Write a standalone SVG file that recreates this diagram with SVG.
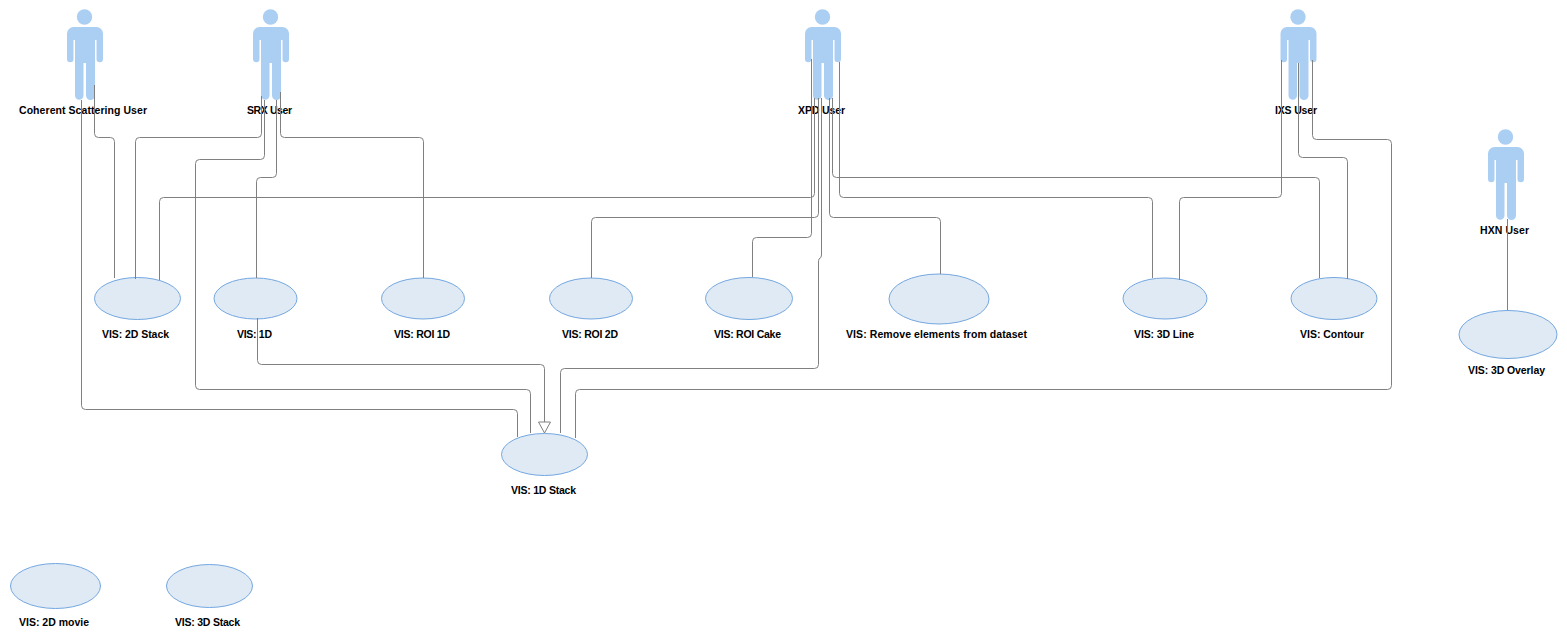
<svg xmlns="http://www.w3.org/2000/svg" width="1567" height="640" viewBox="0 0 1567 640">
<style>
.bg{fill:#fff}
.uc{fill:#dfeaf5;stroke:#74a7e0;stroke-width:1}
.actor{fill:#abcff3}
.lbl{font-family:"Liberation Sans",Arial,sans-serif;font-size:10.5px;font-weight:bold;fill:#000;text-anchor:middle}
.c{fill:none;stroke:#808080;stroke-width:1}
</style>
<defs>
<symbol id="person" overflow="visible">
<circle cx="-0.500" cy="8" r="7.700"/>
<path d="M-11.500 18H11.500A6.500 6.500 0 0 1 18 24.500V50A3.250 3.250 0 0 1 11.500 50V31H10V86.500A4.500 4.500 0 0 1 1 86.500V54H-1.500V86.500A4.250 4.250 0 0 1 -10 86.500V31H-11.500V50A3.250 3.250 0 0 1 -18 50V24.500A6.500 6.500 0 0 1 -11.500 18Z"/>
</symbol>
<marker id="tri" markerUnits="userSpaceOnUse" markerWidth="14" markerHeight="14" refX="11" refY="6" orient="auto" overflow="visible">
<path d="M0 0L11 6L0 12Z" fill="#fff" stroke="#808080"/>
</marker>
</defs>
<rect class="bg" width="1567" height="640"/>
<g id="actor-coherent"><use href="#person" x="85" y="9" class="actor"/><text class="lbl" x="83" y="114" textLength="128">Coherent Scattering User</text></g>
<g id="actor-srx"><use href="#person" x="271" y="9" class="actor"/><text class="lbl" x="269.500" y="114" textLength="45">SRX User</text></g>
<g id="actor-xpd"><use href="#person" x="823" y="9" class="actor"/><text class="lbl" x="821.500" y="114" textLength="47">XPD User</text></g>
<g id="actor-ixs"><use href="#person" x="1298.500" y="9" class="actor"/><text class="lbl" x="1296" y="114" textLength="42">IXS User</text></g>
<g id="actor-hxn"><use href="#person" x="1506" y="129" class="actor"/><text class="lbl" x="1504.500" y="234" textLength="49">HXN User</text></g>
<g id="uc-2dstack"><ellipse class="uc" cx="137.500" cy="298.500" rx="43" ry="21"/><text class="lbl" x="135.500" y="338" textLength="67">VIS: 2D Stack</text></g>
<g id="uc-1d"><ellipse class="uc" cx="255.500" cy="298.500" rx="41.500" ry="20.500"/><text class="lbl" x="254.500" y="338" textLength="35">VIS: 1D</text></g>
<g id="uc-roi1d"><ellipse class="uc" cx="423" cy="298.500" rx="41.500" ry="20.500"/><text class="lbl" x="422" y="338" textLength="56">VIS: ROI 1D</text></g>
<g id="uc-roi2d"><ellipse class="uc" cx="591" cy="298.500" rx="41.500" ry="20.500"/><text class="lbl" x="590" y="338" textLength="56">VIS: ROI 2D</text></g>
<g id="uc-roicake"><ellipse class="uc" cx="749" cy="298.500" rx="43.500" ry="21"/><text class="lbl" x="747.500" y="338" textLength="67">VIS: ROI Cake</text></g>
<g id="uc-remove"><ellipse class="uc" cx="939" cy="299" rx="50" ry="25"/><text class="lbl" x="936.500" y="338" textLength="181">VIS: Remove elements from dataset</text></g>
<g id="uc-3dline"><ellipse class="uc" cx="1165" cy="298.500" rx="42" ry="20.500"/><text class="lbl" x="1164" y="338" textLength="60">VIS: 3D Line</text></g>
<g id="uc-contour"><ellipse class="uc" cx="1334" cy="298.500" rx="43" ry="21"/><text class="lbl" x="1332" y="338" textLength="64">VIS: Contour</text></g>
<g id="uc-3doverlay"><ellipse class="uc" cx="1508" cy="334.500" rx="49" ry="24"/><text class="lbl" x="1506.500" y="374" textLength="77">VIS: 3D Overlay</text></g>
<g id="uc-1dstack"><ellipse class="uc" cx="544.500" cy="454.500" rx="43" ry="21"/><text class="lbl" x="543.500" y="494" textLength="65">VIS: 1D Stack</text></g>
<g id="uc-2dmovie"><ellipse class="uc" cx="55.500" cy="586" rx="45" ry="22.500"/><text class="lbl" x="54" y="626" textLength="70">VIS: 2D movie</text></g>
<g id="uc-3dstack"><ellipse class="uc" cx="209.500" cy="586" rx="43" ry="21.500"/><text class="lbl" x="207.500" y="626" textLength="65">VIS: 3D Stack</text></g>
<g id="connectors">
<path class="c" d="M81.500 100V405.500Q81.500 409.500 85.500 409.500H513.500Q517.500 409.500 517.500 413.500V437"/>
<path class="c" d="M94.500 85V133.500Q94.500 137.500 98.500 137.500H110.500Q114.500 137.500 114.500 141.500V278"/>
<path class="c" d="M261.500 96V133.500Q261.500 137.500 257.500 137.500H139.500Q135.500 137.500 135.500 141.500V279"/>
<path class="c" d="M264.500 100V155.500Q264.500 159.500 260.500 159.500H199.500Q195.500 159.500 195.500 163.500V385.500Q195.500 389.500 199.500 389.500H526.500Q530.500 389.500 530.500 393.500V433"/>
<path class="c" d="M276.500 100V173.500Q276.500 177.500 272.500 177.500H260.500Q256.500 177.500 256.500 181.500V278"/>
<path class="c" d="M280.500 92V133.500Q280.500 137.500 284.500 137.500H419.500Q423.500 137.500 423.500 141.500V278"/>
<path class="c" d="M811.500 59V233.500Q811.500 237.500 807.500 237.500H756.500Q752.500 237.500 752.500 241.500V277"/>
<path class="c" d="M814.500 98V193.500Q814.500 197.500 810.500 197.500H163.500Q159.500 197.500 159.500 201.500V280"/>
<path class="c" d="M818.500 98V213.500Q818.500 217.500 814.500 217.500H595.500Q591.500 217.500 591.500 221.500V278"/>
<path class="c" d="M821.500 98V255Q821.500 258 819 259Q818.500 260 818.500 262V364.500Q818.500 368.500 814.500 368.500H564.500Q560.500 368.500 560.500 372.500V433"/>
<path class="c" d="M829.500 98V213.500Q829.500 217.500 833.500 217.500H936.500Q940.500 217.500 940.500 221.500V274"/>
<path class="c" d="M832.500 98V173.500Q832.500 177.500 836.500 177.500H1315.500Q1319.500 177.500 1319.500 181.500V278"/>
<path class="c" d="M839.500 62V193.500Q839.500 197.500 843.500 197.500H1148.500Q1152.500 197.500 1152.500 201.500V278"/>
<path class="c" d="M1281.500 60V193.500Q1281.500 197.500 1277.500 197.500H1183.500Q1179.500 197.500 1179.500 201.500V280"/>
<path class="c" d="M1298.500 63V153.500Q1298.500 157.500 1302.500 157.500H1343.500Q1347.500 157.500 1347.500 161.500V279"/>
<path class="c" d="M1312.500 60V135.500Q1312.500 139.500 1316.500 139.500H1387.500Q1391.500 139.500 1391.500 143.500V385.500Q1391.500 389.500 1387.500 389.500H579.500Q575.500 389.500 575.500 393.500V438"/>
<path class="c" d="M1507.500 219V310"/>
<path class="c" marker-end="url(#tri)" d="M257.500 318V360.500Q257.500 364.500 261.500 364.500H540.500Q544.500 364.500 544.500 368.500V433"/>
</g>
</svg>
